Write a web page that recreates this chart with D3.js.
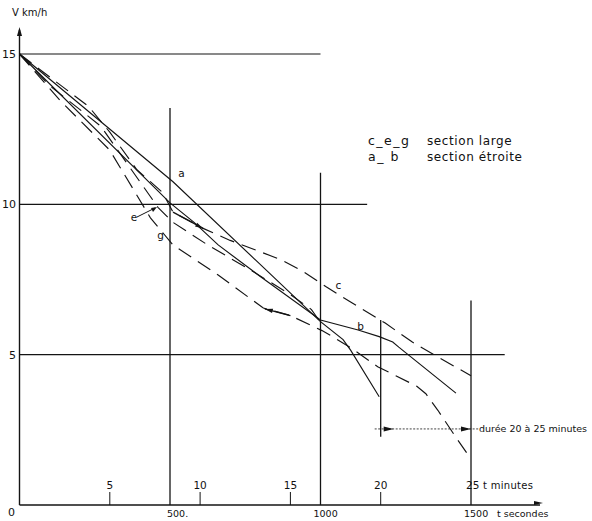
<!DOCTYPE html>
<html>
<head>
<meta charset="utf-8">
<script src="https://cdn.jsdelivr.net/npm/d3@7"></script>
<style>
  body { margin: 0; background: #fff; }
  svg { display: block; }
  text { font-family: "DejaVu Sans", sans-serif; fill: #111; }
</style>
</head>
<body>
<svg id="chart"></svg>
<script>
CHART_WIDTH = 592;
CHART_HEIGHT = 521;

// curves: [t seconds, V km/h]
var curveA = [[0, 15], [510, 10.75], [1000, 6.1], [1075, 5.5], [1100, 5.15], [1195, 3.6]];
var curveB = [[0, 15], [500, 10.05], [580, 9.4], [660, 8.65], [800, 7.6], [1000, 6.15],
              [1125, 5.82], [1195, 5.6], [1240, 5.42], [1260, 5.25], [1450, 3.72]];
var curveC = [[0, 15], [230, 13.25], [300, 12.4], [390, 11.15], [475, 10.4], [510, 9.74],
              [610, 9.2], [700, 8.8], [780, 8.5], [870, 8.15], [945, 7.75], [1020, 7.25],
              [1100, 6.75], [1215, 6.05], [1305, 5.42], [1390, 4.92], [1500, 4.3]];
var curveE = [[0, 15], [100, 13.95], [270, 12.6], [460, 9.9], [510, 9.4], [625, 8.65],
              [770, 7.8], [900, 7.0], [970, 6.5], [1005, 6.0]];
var curveG = [[0, 15], [135, 13.45], [300, 11.8], [435, 9.55], [510, 8.65], [660, 7.65],
              [810, 6.55], [900, 6.3], [1005, 5.8], [1040, 5.6], [1105, 5.2], [1190, 4.6],
              [1250, 4.3], [1320, 3.95], [1350, 3.7], [1390, 3.15], [1450, 2.25], [1495, 1.6]];

var curveLabels = [
    { name: "a", t: 527, v: 10.9 },
    { name: "b", t: 1122, v: 5.83 },
    { name: "c", t: 1050, v: 7.2 },
    { name: "e", t: 370, v: 9.45 },
    { name: "g", t: 458, v: 8.85 }
];

var yTicks = [0, 5, 10, 15];
var secondTicks = [500, 1000, 1500];
var minuteTicks = [5, 10, 15, 20, 25];
var legendRows = [["c_e_g", "section large"], ["a_ b", "section \u00e9troite"]];

function buildChart() {
    var svg = d3.select("#chart")
        .attr("width", CHART_WIDTH)
        .attr("height", CHART_HEIGHT);

    var x = d3.scaleLinear().domain([0, 1500]).range([19.5, 471]);
    var y = d3.scaleLinear().domain([0, 15]).range([505, 54]);
    var ink = "#141414";

    // horizontal reference lines (how far each runs to the right, in seconds)
    var hLines = [[15, 1000], [10, 1155], [5, 1612]];
    svg.selectAll(".hline").data(hLines).enter().append("line")
        .attr("x1", x(0)).attr("x2", function(d) { return x(d[1]); })
        .attr("y1", function(d) { return y(d[0]); }).attr("y2", function(d) { return y(d[0]); })
        .attr("stroke", ink).attr("stroke-width", 1.2);

    // vertical reference lines
    var vLines = [[500, 0, 13.2], [1000, 0, 11.05], [1500, 0, 6.8], [1200, 2.27, 6.15]];
    svg.selectAll(".vline").data(vLines).enter().append("line")
        .attr("x1", function(d) { return x(d[0]); }).attr("x2", function(d) { return x(d[0]); })
        .attr("y1", function(d) { return y(d[1]); }).attr("y2", function(d) { return y(d[2]); })
        .attr("stroke", ink).attr("stroke-width", 1.3);

    // axes
    svg.append("line").attr("x1", x(0)).attr("x2", 540).attr("y1", y(0)).attr("y2", y(0))
        .attr("stroke", ink).attr("stroke-width", 1.4);
    svg.append("line").attr("x1", x(0)).attr("x2", x(0)).attr("y1", y(0)).attr("y2", 30)
        .attr("stroke", ink).attr("stroke-width", 1.4);
    svg.append("path").attr("d", "M" + x(0) + ",27 l-2.5,9 l5,0 z").attr("fill", ink);
    svg.append("path").attr("d", "M543," + (y(0) - 2) + " l-9,-2 l0,4 z").attr("fill", ink);

    // y tick labels
    svg.selectAll(".ylab").data(yTicks).enter().append("text")
        .attr("x", function(d) { return d === 0 ? 8 : 16; })
        .attr("y", function(d) { return d === 0 ? y(d) + 11 : y(d) + 4; })
        .attr("text-anchor", function(d) { return d === 0 ? "start" : "end"; })
        .attr("font-size", 11)
        .text(function(d) { return d; });

    svg.append("text").attr("x", 12).attr("y", 16).attr("font-size", 10).text("V km/h");

    // seconds labels
    svg.selectAll(".slab").data(secondTicks).enter().append("text")
        .attr("x", function(d) { return x(d) - (d === 500 ? 3 : 7); })
        .attr("y", y(0) + 12)
        .attr("font-size", 9.5)
        .text(function(d) { return d === 500 ? "500." : d; });
    svg.append("text").attr("x", x(1500) + 26).attr("y", y(0) + 12).attr("font-size", 9.5)
        .text("t secondes");

    // minute ticks
    svg.selectAll(".mtick").data(minuteTicks.slice(0, 4)).enter().append("line")
        .attr("x1", function(d) { return x(d * 60); }).attr("x2", function(d) { return x(d * 60); })
        .attr("y1", y(0)).attr("y2", y(0) - 13)
        .attr("stroke", ink).attr("stroke-width", 1);
    svg.selectAll(".mlab").data(minuteTicks).enter().append("text")
        .attr("x", function(d) { return d === 25 ? x(d * 60) - 5 : x(d * 60); })
        .attr("y", y(0) - 16)
        .attr("text-anchor", function(d) { return d === 25 ? "start" : "middle"; })
        .attr("font-size", 10.5)
        .text(function(d) { return d; });
    svg.append("text").attr("x", x(1500) + 12).attr("y", y(0) - 16).attr("font-size", 10)
        .attr("letter-spacing", 0.3)
        .text("t minutes");

    // curves
    var line = d3.line().x(function(d) { return x(d[0]); }).y(function(d) { return y(d[1]); });
    var curves = [
        { data: curveA, dash: null },
        { data: curveB, dash: null },
        { data: curveC, dash: "15,8" },
        { data: curveE, dash: "15,8" },
        { data: curveG, dash: "15,8" }
    ];
    svg.selectAll(".curve").data(curves).enter().append("path")
        .attr("d", function(d) { return line(d.data); })
        .attr("fill", "none")
        .attr("stroke", ink)
        .attr("stroke-width", 1.15)
        .attr("stroke-dasharray", function(d) { return d.dash; });

    // short solid arrow marks drawn on c and g
    var marks = [
        { data: curveC.slice(5, 7), tipEnd: true },
        { data: [[815, 6.52], [900, 6.3]], tipEnd: false }
    ];
    marks.forEach(function(m) {
        svg.append("path").attr("d", line(m.data)).attr("fill", "none")
            .attr("stroke", ink).attr("stroke-width", 1.3);
        var p0 = m.tipEnd ? m.data[0] : m.data[1];
        var p1 = m.tipEnd ? m.data[1] : m.data[0];
        var ang = Math.atan2(y(p1[1]) - y(p0[1]), x(p1[0]) - x(p0[0])) * 180 / Math.PI;
        svg.append("path").attr("d", "M0,0 l-8,-2.2 l0,4.4 z").attr("fill", ink)
            .attr("transform", "translate(" + x(p1[0]) + "," + y(p1[1]) + ") rotate(" + ang + ")");
    });

    svg.selectAll(".clab").data(curveLabels).enter().append("text")
        .attr("x", function(d) { return x(d.t); })
        .attr("y", function(d) { return y(d.v); })
        .attr("font-size", 10.5)
        .text(function(d) { return d.name; });

    // leader for e
    svg.append("line").attr("x1", 137).attr("y1", 217).attr("x2", 155).attr("y2", 208)
        .attr("stroke", ink).attr("stroke-width", 1);
    svg.append("path").attr("d", "M157,207 l-6,1 l2,4 z").attr("fill", ink);

    // legend
    legendRows.forEach(function(r, i) {
        svg.append("text").attr("x", 368).attr("y", 145 + i * 16).attr("font-size", 12.5)
            .attr("letter-spacing", 1.5).text(r[0]);
        svg.append("text").attr("x", 427).attr("y", 145 + i * 16).attr("font-size", 12)
            .attr("letter-spacing", 0.6).text(r[1]);
    });

    // duration marker
    var durY = y(2.53);
    svg.append("line").attr("x1", x(1180)).attr("x2", x(1500) + 8).attr("y1", durY).attr("y2", durY)
        .attr("stroke", ink).attr("stroke-width", 0.8).attr("stroke-dasharray", "2,1.5");
    svg.append("path").attr("d", "M" + (x(1200) + 13) + "," + durY + " l-10,-2.5 l0,5 z").attr("fill", ink);
    svg.append("path").attr("d", "M" + x(1500) + "," + durY + " l-10,-2.5 l0,5 z").attr("fill", ink);
    svg.append("text").attr("x", 479).attr("y", durY + 3.5).attr("font-size", 9.5)
        .text("durée 20 à 25 minutes");
}

buildChart();
</script>
</body>
</html>
